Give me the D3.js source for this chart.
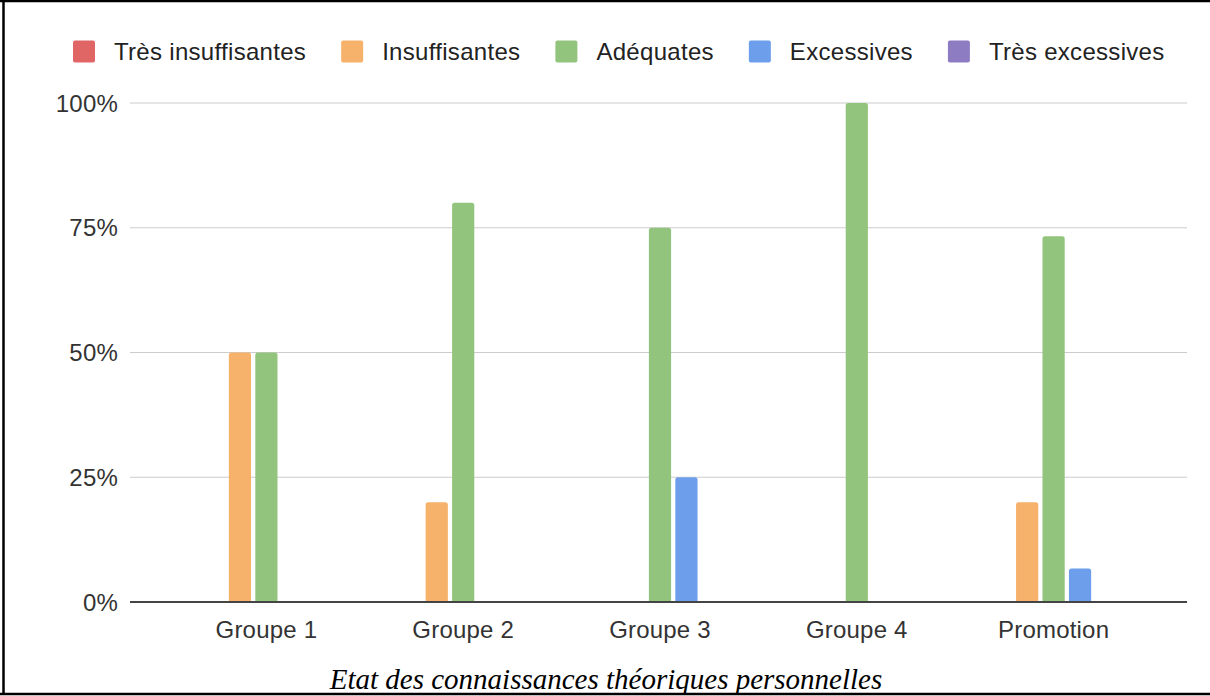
<!DOCTYPE html>
<html>
<head>
<meta charset="utf-8">
<script src="https://cdn.jsdelivr.net/npm/d3@7"></script>
<style>
  html, body { margin: 0; padding: 0; background: #fff; }
  svg { display: block; }
</style>
</head>
<body>
<svg id="chart" width="1210" height="696"></svg>
<script>
const categories = ["Groupe 1", "Groupe 2", "Groupe 3", "Groupe 4", "Promotion"];
const seriesNames = ["Très insuffisantes", "Insuffisantes", "Adéquates", "Excessives", "Très excessives"];
const seriesColors = ["#e06666", "#f6b26b", "#93c47d", "#6d9eeb", "#8e7cc3"];
const tresInsuffisantes = [0, 0, 0, 0, 0];
const insuffisantes = [0.5, 0.2, 0, 0, 0.2];
const adequates = [0.5, 0.8, 0.75, 1.0, 0.733];
const excessives = [0, 0, 0.25, 0, 0.067];
const tresExcessives = [0, 0, 0, 0, 0];
const yTicks = [0, 0.25, 0.5, 0.75, 1];
const caption = "Etat des connaissances théoriques personnelles";

const seriesValues = [tresInsuffisantes, insuffisantes, adequates, excessives, tresExcessives];

const svg = d3.select("#chart");

// frame
svg.append("line").attr("x1", 3.5).attr("x2", 3.5).attr("y1", 0).attr("y2", 695)
  .attr("stroke", "#000").attr("stroke-width", 2.5);
svg.append("line").attr("x1", 0).attr("x2", 1210).attr("y1", 1).attr("y2", 1)
  .attr("stroke", "#000").attr("stroke-width", 2.5);
svg.append("line").attr("x1", 0).attr("x2", 1210).attr("y1", 694).attr("y2", 694)
  .attr("stroke", "#000").attr("stroke-width", 2.5);

const gridLeft = 130, gridRight = 1187;
const y = d3.scaleLinear().domain([0, 1]).range([602, 103]);
const x0 = d3.scaleBand().domain(categories).range([168, 1152]);
const x1 = d3.scaleBand().domain(seriesNames).range([-64, 64]).paddingInner(0.16);

const sans = "Liberation Sans, Arial, sans-serif";

// gridlines
svg.append("g").selectAll("line").data(yTicks.filter(t => t > 0)).join("line")
  .attr("x1", gridLeft).attr("x2", gridRight)
  .attr("y1", d => y(d)).attr("y2", d => y(d))
  .attr("stroke", "#cccccc").attr("stroke-width", 1.2);

// y labels
svg.append("g").selectAll("text").data(yTicks).join("text")
  .attr("x", 118).attr("y", d => y(d))
  .attr("dy", "0.36em")
  .attr("text-anchor", "end")
  .attr("font-family", sans)
  .attr("font-size", 24)
  .attr("letter-spacing", "0.2px")
  .attr("fill", "#333")
  .text(d => d3.format(".0%")(d));

// bars
const data = [];
categories.forEach((c, i) => {
  seriesNames.forEach((s, j) => {
    data.push({ cat: c, series: s, value: seriesValues[j][i], color: seriesColors[j] });
  });
});
const bw = x1.bandwidth();
svg.append("g").selectAll("path").data(data.filter(d => d.value > 0)).join("path")
  .attr("fill", d => d.color)
  .attr("d", d => {
    const cx = x0(d.cat) + x0.bandwidth() / 2 + x1(d.series);
    const top = y(d.value), bot = y(0), r = 2.5;
    return `M${cx},${bot} L${cx},${top + r} Q${cx},${top} ${cx + r},${top} L${cx + bw - r},${top} Q${cx + bw},${top} ${cx + bw},${top + r} L${cx + bw},${bot} Z`;
  });

// baseline axis
svg.append("line").attr("x1", gridLeft).attr("x2", gridRight)
  .attr("y1", y(0)).attr("y2", y(0))
  .attr("stroke", "#444").attr("stroke-width", 2);

// x labels
svg.append("g").selectAll("text").data(categories).join("text")
  .attr("x", d => x0(d) + x0.bandwidth() / 2)
  .attr("y", 638)
  .attr("text-anchor", "middle")
  .attr("font-family", sans)
  .attr("font-size", 24)
  .attr("letter-spacing", "0.2px")
  .attr("fill", "#333")
  .text(d => d);

// legend
const legend = svg.append("g");
let lx = 73;
seriesNames.forEach((s, j) => {
  legend.append("rect").attr("x", lx).attr("y", 40.5).attr("width", 22).attr("height", 22)
    .attr("rx", 2).attr("fill", seriesColors[j]);
  const t = legend.append("text").attr("x", lx + 41).attr("y", 51.5).attr("dy", "0.36em")
    .attr("font-family", sans)
    .attr("font-size", 24).attr("letter-spacing", "0.3px")
    .attr("fill", "#222").text(s);
  lx += 41 + t.node().getComputedTextLength() + 35;
});

// caption
svg.append("text").attr("x", 606).attr("y", 689)
  .attr("text-anchor", "middle")
  .attr("font-family", "Liberation Serif, Times New Roman, serif")
  .attr("font-style", "italic")
  .attr("font-size", 29)
  .attr("fill", "#000")
  .text(caption);
</script>
</body>
</html>
